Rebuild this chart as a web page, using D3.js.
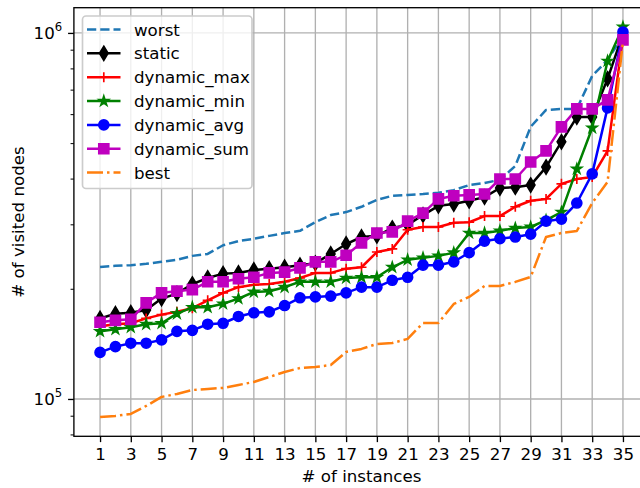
<!DOCTYPE html>
<html><head><meta charset="utf-8">
<script src="https://cdn.jsdelivr.net/npm/d3@7"></script>
<style>
body{margin:0;background:#fff}
svg{display:block}
text{font-family:"DejaVu Sans",sans-serif;fill:#000}
</style>
</head><body>
<svg id="chart" width="640" height="488"></svg>
<script>
// ---------- data ----------
const instances = [1,2,3,4,5,6,7,8,9,10,11,12,13,14,15,16,17,18,19,20,21,22,23,24,25,26,27,28,29,30,31,32,33,34,35];
const worst = [229500,231000,232000,234000,237000,240000,246000,249000,263000,270000,274000,279000,284000,288000,304000,318000,324000,335000,350000,359000,361000,363000,366000,372000,384000,389000,397000,433000,554000,616000,620000,620000,763000,844000,981000];
const staticS = [166000,171000,172000,175000,188000,194000,206000,214000,220000,221000,225000,227000,229000,232000,235000,249000,265000,277000,279000,293000,299000,318000,337000,341000,348000,356000,377000,379000,384000,430000,504000,589000,589000,749000,994000];
const dynamicMax = [158000,160000,161000,166000,170000,173000,177000,186000,195000,202000,205000,206000,209000,214000,221000,221000,227000,229000,252000,257000,290000,295000,295000,303000,304000,316000,316000,335000,348000,352000,387000,399000,404000,476000,969000];
const dynamicMin = [153000,155000,157000,160000,161000,171000,178000,178000,182000,188000,196000,197000,202000,209000,209000,209000,214000,215000,215000,229000,240000,243000,246000,251000,284000,284000,288000,293000,295000,308000,324000,425000,550000,838000,1038000];
const dynamicAvg = [134000,139000,142000,142000,145000,153000,154000,160000,161000,168000,172000,173000,180000,189000,190000,191000,195000,202000,202000,211000,215000,232000,232000,237000,251000,270000,274000,277000,282000,306000,310000,343000,412000,624000,1006000];
const dynamicSum = [162000,164000,165000,183000,195000,197000,199000,209000,209000,213000,215000,221000,222000,228000,237000,237000,247000,267000,284000,286000,306000,322000,352000,359000,361000,363000,399000,399000,444000,476000,554000,620000,620000,656000,957000];
const best = [89300,89900,91000,95700,101300,103200,105800,106500,107200,109200,111300,114800,118500,121500,122300,123800,134400,137000,141300,142200,145900,161300,161300,181800,190000,203600,203600,208800,215400,277100,284100,287700,343200,391600,950000];
const seriesNames = ["worst","static","dynamic_max","dynamic_min","dynamic_avg","dynamic_sum","best"];
const xTickValues = [1,3,5,7,9,11,13,15,17,19,21,23,25,27,29,31,33,35];
const yTickValues = [1e5,1e6];
const yTickExponents = ["5","6"];
const yMinorTicks = [80000,90000,200000,300000,400000,500000,600000,700000,800000,900000];
const xLabel = "# of instances";
const yLabel = "# of visited nodes";

// ---------- styles ----------
const styleFor = {
  "worst":       {color:"#1f77b4", dash:"9.25,4", marker:null},
  "static":      {color:"#000000", dash:null, marker:"d"},
  "dynamic_max": {color:"#ff0000", dash:null, marker:"+"},
  "dynamic_min": {color:"#008000", dash:null, marker:"*"},
  "dynamic_avg": {color:"#0000ff", dash:null, marker:"o"},
  "dynamic_sum": {color:"#bf00bf", dash:null, marker:"s"},
  "best":        {color:"#ff7f0e", dash:"16,4,2.5,4", marker:null}
};
const valuesFor = {
  "worst":worst, "static":staticS, "dynamic_max":dynamicMax, "dynamic_min":dynamicMin,
  "dynamic_avg":dynamicAvg, "dynamic_sum":dynamicSum, "best":best
};

(function(){
const PT = 120/72;            // px per point
const FS = 10*PT;             // 16.67 px font
const LW = 1.5*PT;            // line width
const MS = 6*PT;              // marker size
const MEW = 1*PT;             // marker edge width

const svg = d3.select("#chart");
const pL = 73.9, pR = 649.1, pT = 7.7, pB = 436.3;

const x = d3.scaleLinear().domain([-0.7, 36.7]).range([pL, pR]);
const y = d3.scaleLog().domain([79068, 1172000]).range([pB, pT]);

// clip
svg.append("defs").append("clipPath").attr("id","plotclip")
  .append("rect").attr("x",pL).attr("y",pT).attr("width",pR-pL).attr("height",pB-pT);

// grid
const grid = svg.append("g").attr("stroke","#b0b0b0").attr("stroke-width",0.8*PT).attr("clip-path","url(#plotclip)");
grid.selectAll("line.vx").data(xTickValues).enter().append("line")
  .attr("x1",d=>x(d)).attr("x2",d=>x(d)).attr("y1",pT).attr("y2",pB);
grid.selectAll("line.hy").data(yTickValues).enter().append("line")
  .attr("x1",pL).attr("x2",pR).attr("y1",d=>y(d)).attr("y2",d=>y(d));

// marker shapes (matplotlib geometry)
function markerPath(type){
  const r = MS/2;
  if(type==="o") return d3.symbol(d3.symbolCircle, Math.PI*r*r)();
  if(type==="s") return `M${-r},${-r}H${r}V${r}H${-r}Z`;
  if(type==="d"){ const h = MS*Math.SQRT2/2, w = 0.6*MS*Math.SQRT2/2;
    return `M0,${-h}L${w},0L0,${h}L${-w},0Z`; }
  if(type==="*"){ const pts=[]; const ri = r*0.381966;
    for(let i=0;i<10;i++){ const a = -Math.PI/2 + i*Math.PI/5; const rr = i%2===0? r: ri;
      pts.push([rr*Math.cos(a), rr*Math.sin(a)]); }
    return "M"+pts.map(p=>p.join(",")).join("L")+"Z"; }
  if(type==="+") return `M${-r},0H${r}M0,${-r}V${r}`;
  return "";
}

const line = d3.line().x((d,i)=>x(instances[i])).y(d=>y(d));
const plot = svg.append("g").attr("clip-path","url(#plotclip)");

seriesNames.forEach(name=>{
  const st = styleFor[name], vals = valuesFor[name];
  const g = plot.append("g");
  g.append("path").datum(vals).attr("d", line)
    .attr("fill","none").attr("stroke",st.color).attr("stroke-width",LW)
    .attr("stroke-dasharray", st.dash)
    .attr("stroke-linejoin","round")
    .attr("stroke-linecap", st.dash ? "butt" : "square");
  if(st.marker){
    const p = markerPath(st.marker);
    g.selectAll("path.m").data(vals).enter().append("path")
      .attr("class","m")
      .attr("transform",(d,i)=>`translate(${x(instances[i])},${y(d)})`)
      .attr("d", p)
      .attr("fill", st.marker==="+" ? "none" : st.color)
      .attr("stroke", st.color).attr("stroke-width", MEW)
      .attr("stroke-linejoin","miter");
  }
});

// spines
svg.append("rect").attr("x",pL).attr("y",pT).attr("width",pR-pL).attr("height",pB-pT)
  .attr("fill","none").attr("stroke","#000").attr("stroke-width",0.8*PT);

// x axis
const xAxis = d3.axisBottom(x).tickValues(xTickValues).tickSize(3.5*PT).tickPadding(3.5*PT).tickSizeOuter(0);
const gx = svg.append("g").attr("transform",`translate(0,${pB})`).call(xAxis);
gx.select(".domain").remove();
gx.selectAll(".tick line").attr("stroke","#000").attr("stroke-width",0.8*PT);
gx.selectAll(".tick text").attr("font-size",FS).attr("font-family","DejaVu Sans").attr("fill","#000");

// y axis major ticks
const yAxis = d3.axisLeft(y).tickValues(yTickValues).tickSize(3.5*PT).tickFormat(()=>"").tickSizeOuter(0);
const gy = svg.append("g").attr("transform",`translate(${pL},0)`).call(yAxis);
gy.select(".domain").remove();
gy.selectAll(".tick line").attr("stroke","#000").attr("stroke-width",0.8*PT);
// minor ticks
const yMinor = d3.axisLeft(y).tickValues(yMinorTicks).tickSize(2*PT).tickFormat(()=>"").tickSizeOuter(0);
const gym = svg.append("g").attr("transform",`translate(${pL},0)`).call(yMinor);
gym.select(".domain").remove();
gym.selectAll(".tick line").attr("stroke","#000").attr("stroke-width",0.6*PT);

// y tick labels 10^n
yTickValues.forEach((v,i)=>{
  const t = svg.append("text").attr("x", pL - 7*PT).attr("y", y(v)+6)
    .attr("text-anchor","end").attr("font-size",FS);
  t.append("tspan").text("10");
  t.append("tspan").attr("dy",-7.5).attr("font-size",FS*0.7).text(yTickExponents[i]);
});

// axis labels
svg.append("text").attr("x",(pL+pR)/2).attr("y",482)
  .attr("text-anchor","middle").attr("font-size",FS).text(xLabel);
svg.append("text").attr("transform",`translate(24,${(pT+pB)/2}) rotate(-90)`)
  .attr("text-anchor","middle").attr("font-size",FS).text(yLabel);

// legend
const lg = svg.append("g");
lg.append("rect").attr("x",82.5).attr("y",16).attr("width",169.5).attr("height",172.5)
  .attr("rx",3.5).attr("fill","#fff").attr("fill-opacity",0.8)
  .attr("stroke","#cccccc").attr("stroke-width",1*PT);
const rowY0 = 29.5, rowDy = 23.85;
seriesNames.forEach((name,i)=>{
  const st = styleFor[name];
  const cy = rowY0 + i*rowDy;
  lg.append("line").attr("x1",87).attr("x2",120.5).attr("y1",cy).attr("y2",cy)
    .attr("stroke",st.color).attr("stroke-width",LW).attr("stroke-dasharray",st.dash);
  if(st.marker){
    lg.append("path").attr("transform",`translate(103.8,${cy})`).attr("d",markerPath(st.marker))
      .attr("fill", st.marker==="+" ? "none" : st.color).attr("stroke",st.color).attr("stroke-width",MEW);
  }
  lg.append("text").attr("x",134).attr("y",cy+6).attr("font-size",FS).text(name);
});
})();
</script>
</body></html>
